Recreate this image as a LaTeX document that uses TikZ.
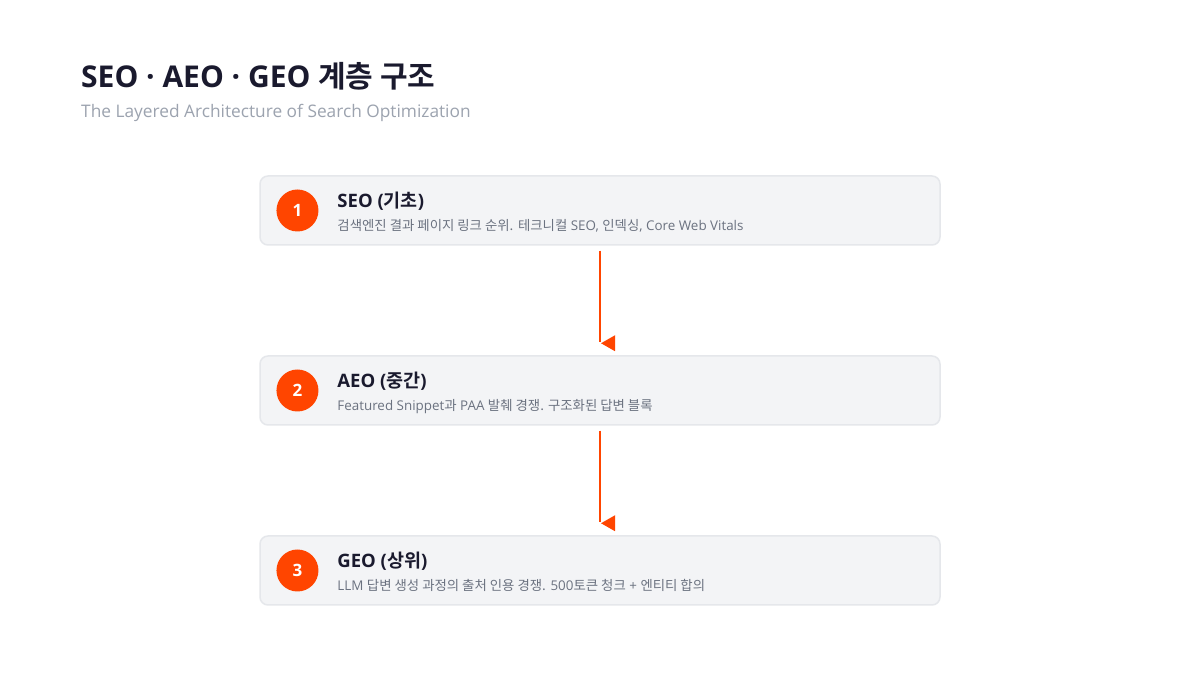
\documentclass[tikz,border=0pt]{standalone}
\usepackage{fontspec}
\setmainfont{Open Sans}
\newfontfamily\kofont{Noto Sans CJK KR}[BoldFont={Noto Sans CJK KR Bold}]
\newcommand{\ko}[1]{{\kofont #1}}
\usetikzlibrary{positioning}
\definecolor{accent}{HTML}{FF4500}
\definecolor{ink}{HTML}{1A1A2E}
\definecolor{muted}{HTML}{6B7280}
\definecolor{faint}{HTML}{9CA3AF}
\definecolor{panel}{HTML}{F3F4F6}
\definecolor{panelline}{HTML}{E5E7EB}

\begin{document}
\begin{tikzpicture}[x=1pt,y=1pt,
    layerbox/.style={draw=panelline, line width=1.5pt, fill=panel, rounded corners=8pt, minimum width=680pt, minimum height=69pt, inner sep=0pt},
    badge/.style={circle, fill=accent, minimum size=42pt, inner sep=0pt, text=white, font=\fontsize{17}{20}\selectfont\bfseries},
    layername/.style={anchor=base west, inner sep=0pt, text=ink, font=\fontsize{18.5}{22}\selectfont\bfseries},
    layerdesc/.style={anchor=base west, inner sep=0pt, text=muted, font=\fontsize{13.4}{15}\selectfont},
    flow/.style={draw=accent, line width=2.5pt}]
    \useasboundingbox (0,0) rectangle (1200,675);
    \fill[white] (0,0) rectangle (1200,675);

    \node[anchor=base west, inner sep=0pt, text=ink, font=\fontsize{30}{36}\selectfont\bfseries] (title) at (81,587) {SEO · AEO · GEO \ko{계층 구조}};
    \node[anchor=base west, inner sep=0pt, text=faint, font=\fontsize{17.3}{20}\selectfont] (subtitle) at (81,557) {The Layered Architecture of Search Optimization};

    \node[layerbox] (seo) at (600,464.5) {};
    \node[layerbox] (aeo) at (600,284.5) {};
    \node[layerbox] (geo) at (600,104.5) {};

    \node[badge, right=17pt of seo.west] (seoNum) {1};
    \node[badge, right=17pt of aeo.west] (aeoNum) {2};
    \node[badge, right=17pt of geo.west] (geoNum) {3};

    \node[layername] (seoName) at ([xshift=78pt,yshift=2.5pt]seo.west) {SEO (\ko{기초})};
    \node[layerdesc] (seoDesc) at ([xshift=78pt,yshift=-20.5pt]seo.west) {\ko{검색엔진 결과 페이지 링크 순위.} \ko{테크니컬} SEO, \ko{인덱싱}, Core Web Vitals};
    \node[layername] (aeoName) at ([xshift=78pt,yshift=2.5pt]aeo.west) {AEO (\ko{중간})};
    \node[layerdesc] (aeoDesc) at ([xshift=78pt,yshift=-20.5pt]aeo.west) {Featured Snippet\ko{과} PAA \ko{발췌 경쟁. 구조화된 답변 블록}};
    \node[layername] (geoName) at ([xshift=78pt,yshift=2.5pt]geo.west) {GEO (\ko{상위})};
    \node[layerdesc] (geoDesc) at ([xshift=78pt,yshift=-20.5pt]geo.west) {LLM \ko{답변 생성 과정의 출처 인용 경쟁.} 500\ko{토큰 청크} + \ko{엔티티 합의}};

\draw[flow] ([yshift=-5pt]seo.south) -- ([yshift=13pt]aeo.north);
\fill[accent] ([xshift=1pt,yshift=12pt]aeo.north) -- ([xshift=15pt,yshift=20pt]aeo.north) -- ([xshift=15pt,yshift=4pt]aeo.north) -- cycle;
\draw[flow] ([yshift=-5pt]aeo.south) -- ([yshift=13pt]geo.north);
\fill[accent] ([xshift=1pt,yshift=12pt]geo.north) -- ([xshift=15pt,yshift=20pt]geo.north) -- ([xshift=15pt,yshift=4pt]geo.north) -- cycle;

\end{tikzpicture}
\end{document}
